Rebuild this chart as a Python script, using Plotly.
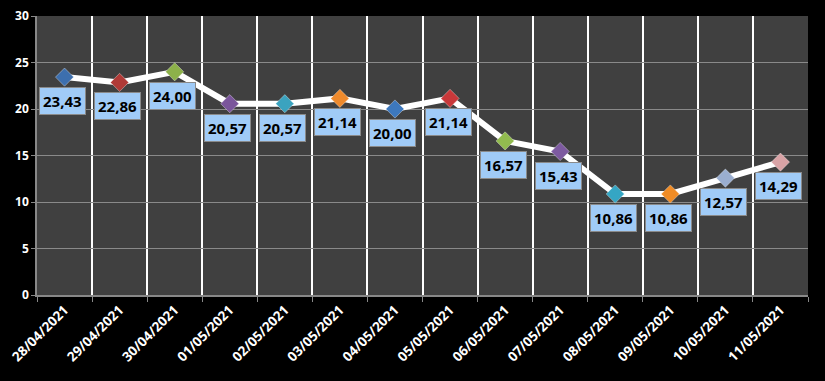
import plotly.graph_objects as go

dates = ["28/04/2021", "29/04/2021", "30/04/2021", "01/05/2021", "02/05/2021",
         "03/05/2021", "04/05/2021", "05/05/2021", "06/05/2021", "07/05/2021",
         "08/05/2021", "09/05/2021", "10/05/2021", "11/05/2021"]
values = [23.43, 22.86, 24.00, 20.57, 20.57, 21.14, 20.00, 21.14, 16.57, 15.43,
          10.86, 10.86, 12.57, 14.29]
marker_colors = ["#3d6fae", "#b03a37", "#8db14a", "#7a559b", "#3ba3bf", "#ef8a2c",
                 "#3d78bd", "#c8383a", "#92bb4f", "#7d5aa0", "#35a6c4", "#f08c26",
                 "#9aaed0", "#d9a3a6"]
label_texts = [f"{v:.2f}".replace(".", ",") for v in values]

fig = go.Figure()
fig.add_trace(go.Scatter(
    x=dates, y=values, mode="lines+markers",
    line=dict(color="white", width=6),
    marker=dict(symbol="diamond", size=14, color=marker_colors,
                line=dict(color="rgba(255,255,255,0.35)", width=1)),
    hoverinfo="skip", showlegend=False,
))

for d, v, t in zip(dates, values, label_texts):
    fig.add_annotation(
        x=d, y=v, text=f"<b>{t}</b>", showarrow=False, yshift=-24, xshift=-2,
        font=dict(family="Open Sans, Liberation Sans, sans-serif", size=15, color="black"),
        bgcolor="#a0cbf7", bordercolor="#8a8a8a", borderwidth=1, borderpad=3,
    )

fig.update_layout(
    width=825, height=381,
    margin=dict(l=37, r=17, t=16, b=86, autoexpand=False),
    paper_bgcolor="black", plot_bgcolor="#404040",
    font=dict(family="Open Sans, Liberation Sans, sans-serif", color="white"),
    xaxis=dict(
        type="category", tickson="boundaries", showgrid=True, gridcolor="white",
        gridwidth=1.5, tickangle=-45, ticks="outside", ticklen=5, tickcolor="#888888",
        showline=True, linecolor="#888888", linewidth=1.5, automargin=False,
        tickfont=dict(size=13.5, color="white", family="Open Sans, sans-serif", weight="bold"),
        range=[-0.5, len(dates) - 0.5],
    ),
    yaxis=dict(
        range=[0, 30], dtick=5, showgrid=True, gridcolor="#8a8a8a", gridwidth=1,
        ticks="outside", ticklen=4, tickcolor="#888888", showline=True,
        linecolor="#888888", linewidth=1.5, zeroline=False, automargin=False,
        tickfont=dict(size=12, color="white", family="Open Sans, sans-serif", weight="bold"),
    ),
)

fig.write_html("out.html", config={"displayModeBar": False},
               post_script="document.body.style.margin='0';document.body.style.background='black';")
